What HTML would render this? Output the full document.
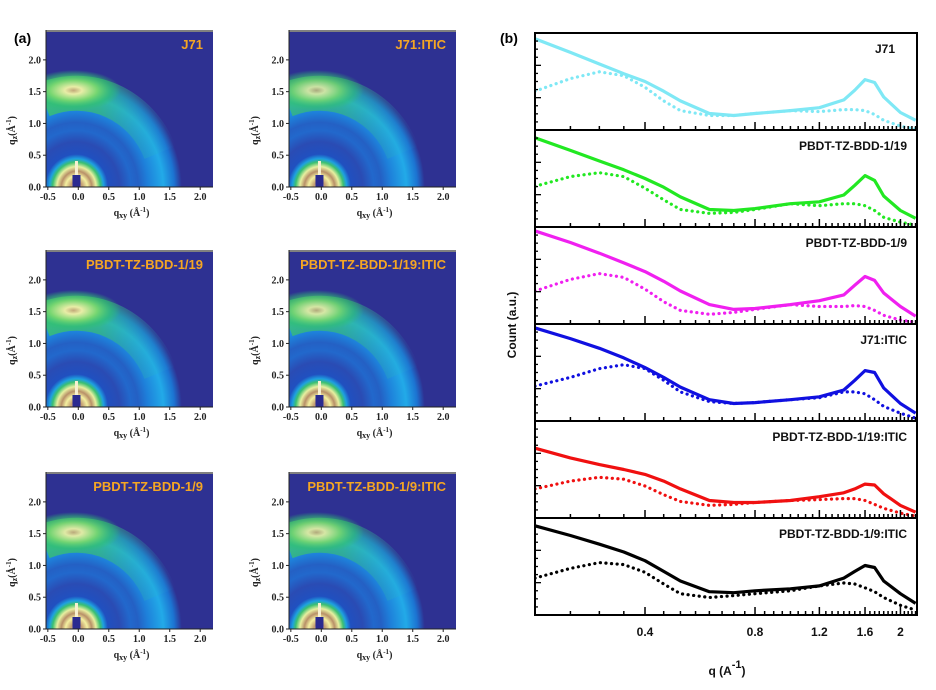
<!DOCTYPE html>
<html><head><meta charset="utf-8">
<style>
html,body{margin:0;padding:0;background:#fff;width:936px;height:690px;overflow:hidden;}
svg{display:block;overflow:hidden;}
.tk{font-family:"Liberation Serif",serif;font-weight:bold;font-size:10px;fill:#222;}
.lbl{font-family:"Liberation Sans",sans-serif;font-weight:bold;font-size:13px;fill:#f5a623;}
.bl{font-family:"Liberation Sans",sans-serif;font-weight:bold;font-size:12px;fill:#111;}
</style></head>
<body>
<svg id="fig" width="936" height="690" viewBox="0 0 936 690" xmlns="http://www.w3.org/2000/svg">
<defs>
<radialGradient id="ringG" gradientUnits="userSpaceOnUse" cx="0" cy="0" r="1">
<stop offset="0" stop-color="#ffffff"/>
<stop offset="0.05" stop-color="#c09a70"/>
<stop offset="0.10" stop-color="#f4f0a0"/>
<stop offset="0.14" stop-color="#b89068"/>
<stop offset="0.18" stop-color="#e8f0a0"/>
<stop offset="0.22" stop-color="#3cc070"/>
<stop offset="0.25" stop-color="#1ea0e0"/>
<stop offset="0.29" stop-color="#2050c0"/>
<stop offset="0.40" stop-color="#2a4cb4"/>
<stop offset="0.50" stop-color="#2268cc"/>
<stop offset="0.57" stop-color="#2460c4"/>
<stop offset="0.66" stop-color="#1e80da"/>
<stop offset="0.80" stop-color="#22aae8"/>
<stop offset="0.90" stop-color="#1c74d2"/>
<stop offset="0.97" stop-color="#2e3192"/>
<stop offset="1" stop-color="#2e3192"/>
</radialGradient>
<radialGradient id="lobeG" cx="0.5" cy="0.5" r="0.5">
<stop offset="0" stop-color="#c8a878"/>
<stop offset="0.18" stop-color="#f2f0a8"/>
<stop offset="0.5" stop-color="#7ad870"/>
<stop offset="0.8" stop-color="#30c070" stop-opacity="0.6"/>
<stop offset="1" stop-color="#30c070" stop-opacity="0"/>
</radialGradient>
<linearGradient id="arcG" x1="0" y1="0" x2="1" y2="0">
<stop offset="0" stop-color="#3cc468" stop-opacity="0.95"/>
<stop offset="0.45" stop-color="#3cc468" stop-opacity="0.75"/>
<stop offset="1" stop-color="#22b0e0" stop-opacity="0"/>
</linearGradient>
</defs>
<g id="panelA"></g>
<g id="panelB"></g>
<text x="14" y="43" font-family="Liberation Sans,sans-serif" font-weight="bold" font-size="14">(a)</text>
<text x="500" y="43" font-family="Liberation Sans,sans-serif" font-weight="bold" font-size="14">(b)</text>
</svg>
<script>
const NS="http://www.w3.org/2000/svg";
function mk(tag,attrs,parent){const e=document.createElementNS(NS,tag);for(const k in attrs)e.setAttribute(k,attrs[k]);if(parent)parent.appendChild(e);return e;}

// ---------- Panel (a) data ----------
const mapNames=["J71","J71:ITIC","PBDT-TZ-BDD-1/19","PBDT-TZ-BDD-1/19:ITIC","PBDT-TZ-BDD-1/9","PBDT-TZ-BDD-1/9:ITIC"];
const mapLobeStrength=[0.95,0.8,0.95,0.85,0.9,0.85];
const mapXTicks=[-0.5,0,0.5,1,1.5,2];
const mapYTicks=[0,0.5,1,1.5,2];
const mapXTickLabels=["-0.5","0.0","0.5","1.0","1.5","2.0"];
const mapYTickLabels=["0.0","0.5","1.0","1.5","2.0"];

const A=document.getElementById('panelA');
const colLeft=[46,289], rowTop=[30,250,472], pw=167, ph=157;
const qxMin=-0.53,qxMax=2.21,qzMax=2.47;
mapNames.forEach((nm,i)=>{
  const L=colLeft[i%2],T=rowTop[Math.floor(i/2)];
  const kx=pw/(qxMax-qxMin), kz=ph/qzMax;
  const sx=q=>L+(q-qxMin)*kx;
  const sy=q=>T+ph-q*kz;
  const g=mk('g',{},A);
  
  
  const cid='clip'+i;
  const cp=mk('clipPath',{id:cid},g);mk('rect',{x:L,y:T,width:pw,height:ph},cp);
  const inner=mk('g',{'clip-path':'url(#'+cid+')'},g);
  mk('rect',{x:L,y:T,width:pw,height:ph,fill:'#2e3192'},inner);
  const ox=sx(-0.03),oy=sy(0);
  const rg=mk('g',{transform:`translate(${ox},${oy}) scale(${1.78*kx},${1.78*kz})`},inner);
  mk('circle',{cx:0,cy:0,r:1,fill:'url(#ringG)'},rg);
  const s=mapLobeStrength[i];
  // green arc band (annulus r 1.2..1.75, upper quadrant)
  const r1=1.2,r2=1.75,a0=Math.PI*0.62,a1=Math.PI*0.12;
  const P=(r,a)=>`${ox+r*Math.cos(a)*kx},${oy-r*Math.sin(a)*kz}`;
  const arcD=`M${P(r2,a0)} A${r2*kx},${r2*kz} 0 0 1 ${P(r2,a1)} L${P(r1,a1)} A${r1*kx},${r1*kz} 0 0 0 ${P(r1,a0)} Z`;
  mk('path',{d:arcD,fill:'url(#arcG)',opacity:s*0.9},inner);
  mk('ellipse',{cx:sx(-0.08),cy:sy(1.52),rx:0.78*kx,ry:0.32*kz,fill:'url(#lobeG)',opacity:s},inner);
  mk('rect',{x:ox-4,y:oy-12,width:8,height:12,fill:'#2a2a90'},inner);
  mk('rect',{x:ox-1.5,y:oy-26,width:3,height:14,fill:'#f8f0d0'},inner);
  mk('rect',{x:L,y:T,width:pw,height:2,fill:'#808080'},g);
  mk('line',{x1:L,y1:T+ph,x2:L+pw,y2:T+ph,stroke:'#222','stroke-width':1},g);
  mk('line',{x1:L,y1:T,x2:L,y2:T+ph,stroke:'#222','stroke-width':1},g);
  mapXTicks.forEach((v,k)=>{const x=sx(v);mk('line',{x1:x,y1:T+ph,x2:x,y2:T+ph+3,stroke:'#222'},g);
    const t=mk('text',{x:x,y:T+ph+13,'text-anchor':'middle',class:'tk'},g);t.textContent=mapXTickLabels[k];});
  mapYTicks.forEach((v,k)=>{const y=sy(v);mk('line',{x1:L-3,y1:y,x2:L,y2:y,stroke:'#222'},g);
    const t=mk('text',{x:L-5,y:y+3.5,'text-anchor':'end',class:'tk'},g);t.textContent=mapYTickLabels[k];});
  const yt=mk('text',{x:0,y:0,class:'tk','font-size':'12','text-anchor':'middle',transform:`translate(${L-31},${T+ph/2+22}) rotate(-90)`},g);
  
  yt.innerHTML='q<tspan font-size="8" dy="2">z</tspan><tspan dy="-2">(Å</tspan><tspan font-size="7" dy="-4">-1</tspan><tspan dy="4">)</tspan>';
  const xt=mk('text',{x:L+pw/2+2,y:T+ph+29,class:'tk','font-size':'12','text-anchor':'middle'},g);
  
  xt.innerHTML='q<tspan font-size="8" dy="2">xy</tspan><tspan dy="-2"> (Å</tspan><tspan font-size="7" dy="-4">-1</tspan><tspan dy="4">)</tspan>';
  const lb=mk('text',{x:L+pw-10,y:T+19,'text-anchor':'end',class:'lbl'},g);
  
  lb.textContent=nm;
});

// ---------- Panel (b) data ----------
const qVals=[0.2,0.25,0.3,0.35,0.4,0.45,0.5,0.6,0.7,0.8,1.0,1.2,1.4,1.5,1.6,1.7,1.8,2.0,2.2];
const seriesNames=["J71","PBDT-TZ-BDD-1/19","PBDT-TZ-BDD-1/9","J71:ITIC","PBDT-TZ-BDD-1/19:ITIC","PBDT-TZ-BDD-1/9:ITIC"];
const seriesColors=["#7fe8f5","#22e822","#f020f0","#1010e0","#f01010","#000000"];
const solid1=[0.94,0.80,0.68,0.58,0.50,0.40,0.30,0.17,0.15,0.17,0.20,0.23,0.31,0.41,0.52,0.49,0.34,0.18,0.10];
const dot1=[0.40,0.53,0.60,0.56,0.44,0.30,0.20,0.15,0.15,0.17,0.20,0.19,0.21,0.21,0.20,0.16,0.10,0.04,0.01];
const solid2=[0.92,0.79,0.68,0.59,0.50,0.41,0.31,0.18,0.17,0.19,0.24,0.26,0.33,0.43,0.53,0.48,0.32,0.17,0.09];
const dot2=[0.42,0.52,0.56,0.52,0.40,0.28,0.18,0.14,0.15,0.18,0.24,0.22,0.24,0.24,0.22,0.17,0.10,0.05,0.02];
const solid3=[0.96,0.84,0.73,0.63,0.54,0.44,0.34,0.20,0.15,0.16,0.20,0.24,0.30,0.40,0.49,0.45,0.32,0.18,0.08];
const dot3=[0.34,0.46,0.52,0.48,0.36,0.23,0.14,0.10,0.12,0.15,0.20,0.18,0.18,0.19,0.18,0.14,0.09,0.04,0.02];
const solid4=[0.96,0.85,0.75,0.65,0.55,0.45,0.35,0.22,0.18,0.19,0.22,0.25,0.32,0.42,0.52,0.50,0.34,0.18,0.08];
const dot4=[0.36,0.45,0.54,0.58,0.54,0.42,0.30,0.20,0.18,0.19,0.22,0.24,0.30,0.30,0.28,0.22,0.15,0.08,0.03];
const solid5=[0.72,0.62,0.55,0.50,0.45,0.38,0.30,0.18,0.16,0.16,0.18,0.22,0.26,0.30,0.35,0.34,0.25,0.13,0.06];
const dot5=[0.30,0.38,0.42,0.40,0.33,0.24,0.17,0.13,0.14,0.16,0.18,0.19,0.20,0.20,0.18,0.14,0.10,0.05,0.02];
const solid6=[0.92,0.82,0.73,0.65,0.56,0.45,0.35,0.24,0.23,0.25,0.27,0.30,0.38,0.45,0.51,0.49,0.35,0.22,0.12];
const dot6=[0.38,0.48,0.54,0.52,0.44,0.32,0.22,0.18,0.20,0.22,0.25,0.30,0.33,0.32,0.28,0.24,0.18,0.10,0.05];
const solids=[solid1,solid2,solid3,solid4,solid5,solid6];
const dots=[dot1,dot2,dot3,dot4,dot5,dot6];
const qTicks=[0.4,0.8,1.2,1.6,2];
const qTickLabels=["0.4","0.8","1.2","1.6","2"];

const B=document.getElementById('panelB');
const bL=535,bR=917,bT=33,bBot=615,nP=6,pH=(bBot-bT)/nP;
const qMin=0.2,qMax=2.22;
const xq=q=>bL+(Math.log(q)-Math.log(qMin))/(Math.log(qMax)-Math.log(qMin))*(bR-bL);
const minorQ=[];for(let q=0.25;q<2.22;q+=0.05)minorQ.push(q);
seriesNames.forEach((nm,i)=>{
  const top=bT+i*pH, bot=top+pH;
  const yv=v=>bot-v*pH;
  const g=mk('g',{},B);
  
  
  const cid='bclip'+i;
  const cp=mk('clipPath',{id:cid},g);mk('rect',{x:bL,y:top,width:bR-bL,height:pH},cp);
  const cg=mk('g',{'clip-path':'url(#'+cid+')'},g);
  const ptsD=qVals.map((q,k)=>xq(q).toFixed(1)+','+yv(dots[i][k]).toFixed(1)).join(' ');
  const d=mk('polyline',{points:ptsD,fill:'none',stroke:seriesColors[i],'stroke-width':3.2,'stroke-dasharray':'0.1 5.5','stroke-linecap':'round','stroke-linejoin':'round'},cg);
  
  const ptsS=qVals.map((q,k)=>xq(q).toFixed(1)+','+yv(solids[i][k]).toFixed(1)).join(' ');
  const s=mk('polyline',{points:ptsS,fill:'none',stroke:seriesColors[i],'stroke-width':3.2,'stroke-linejoin':'round'},cg);
  
  minorQ.forEach(q=>{const x=xq(q);const major=qTicks.some(t=>Math.abs(t-q)<1e-6);
    mk('line',{x1:x,y1:bot,x2:x,y2:bot-(major?8:4),stroke:'#000','stroke-width':1.5},g);});
  for(let k=1;k<12;k++){mk('line',{x1:bL,y1:top+k*pH/12,x2:bL+(k%4===0?6:3),y2:top+k*pH/12,stroke:'#000','stroke-width':1.3},g);}
  mk('rect',{x:bL,y:top,width:bR-bL,height:pH,fill:'none',stroke:'#000','stroke-width':2},g);
  const lb=mk('text',{x:i===0?895:907,y:top+20,'text-anchor':'end',class:'bl'},g);
  
  lb.textContent=nm;
});
qTicks.forEach((q,k)=>{const t=mk('text',{x:xq(q),y:636,'text-anchor':'middle',class:'bl','font-size':'14'},B);
  t.textContent=qTickLabels[k];});
const xt=mk('text',{x:727,y:675,'text-anchor':'middle',class:'bl','font-size':'17'},B);

xt.innerHTML='q (A<tspan font-size="11" dy="-7">-1</tspan><tspan dy="7">)</tspan>';
const yt=mk('text',{x:0,y:0,'text-anchor':'middle',class:'bl','font-size':'17',transform:'translate(516,325) rotate(-90)'},B);

yt.textContent='Count (a.u.)';
</script>
</body></html>
